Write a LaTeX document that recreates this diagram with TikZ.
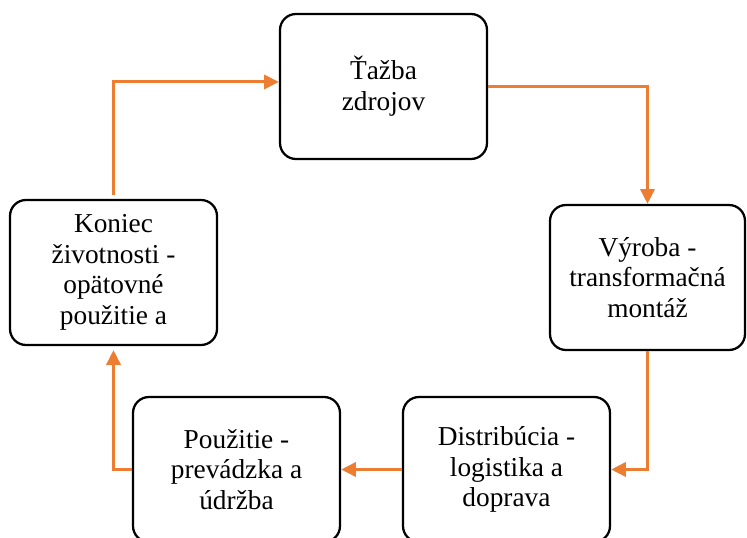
\documentclass[tikz,border=0pt]{standalone}
\usepackage{fontspec}
\setmainfont{Liberation Serif}
\usetikzlibrary{arrows.meta}
\definecolor{cycleorange}{HTML}{ED7D31}

\begin{document}
\begin{tikzpicture}[x=0.75pt, y=-0.75pt,
  stage/.style={draw, line width=1.7pt, rounded corners=12pt, minimum height=108.75pt,
    minimum width=155.25pt, align=center, font=\fontsize{20.5}{23}\selectfont},
  flow/.style={draw=cycleorange, line width=2.3pt, -{Triangle[length=11pt, width=10.5pt]}}]
  % picture frame in pixels of the reference, the lower boxes run off the edge
  \useasboundingbox (0, 0) rectangle (747, 538);

  % the five stages of the cycle
  \node[stage] (mining) at (383.5, 86.5) {Ťažba\\zdrojov};
  \node[stage, minimum width=146.25pt] (production) at (647.5, 277.5) {Výroba -\\transformačná\\montáž};
  \node[stage] (distribution) at (506.5, 469.5) {Distribúcia -\\logistika a\\doprava};
  \node[stage] (usage) at (236.5, 469.5) {Použitie -\\prevádzka a\\údržba};
  \node[stage] (endoflife) at (113.5, 272.5) {Koniec\\životnosti -\\opätovné\\použitie a};

  % the orange connectors, clockwise
  \draw[flow] (mining.east) -| (production.north);
  \draw[flow] (production.south) |- (distribution.east);
  \draw[flow] (distribution.west) -- (usage.east);
  \draw[flow, shorten >=3pt] (usage.west) -| (endoflife.south);
  \draw[flow, shorten <=3pt] (endoflife.north) |- ([yshift=3.4pt]mining.west);
\end{tikzpicture}
\end{document}
